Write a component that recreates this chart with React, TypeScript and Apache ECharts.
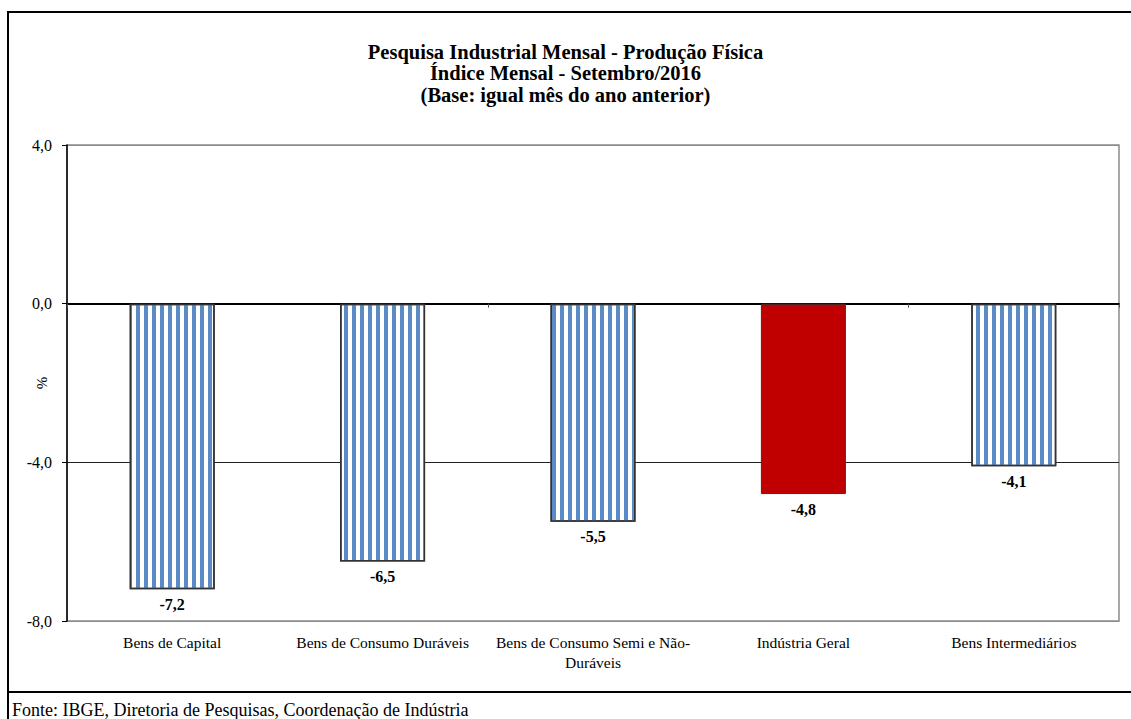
import React, { useEffect, useRef } from "react";
import * as echarts from "echarts";

const titleLines = [
  "Pesquisa Industrial Mensal - Produção Física",
  "Índice Mensal - Setembro/2016",
  "(Base: igual mês do ano anterior)",
];
const categories = [
  "Bens de Capital",
  "Bens de Consumo Duráveis",
  "Bens de Consumo Semi e Não-Duráveis",
  "Indústria Geral",
  "Bens Intermediários",
];
const values = [-7.2, -6.5, -5.5, -4.8, -4.1];
const highlighted = [false, false, false, true, false];
const yAxisName = "%";
const sourceNote = "Fonte: IBGE, Diretoria de Pesquisas, Coordenação de Indústria";

const SERIF = "'Liberation Serif', 'Times New Roman', serif";
const fmt = (v: number) => v.toFixed(1).replace(".", ",");

export default function App() {
  const ref = useRef<HTMLDivElement>(null);
  useEffect(() => {
    if (!ref.current) return;
    const chart = echarts.init(ref.current, null, { renderer: "svg" });
    const stripe = {
      symbol: "rect",
      symbolSize: 1,
      color: "#5b8bc6",
      dashArrayX: [4, 3.7],
      dashArrayY: [10, 0],
      rotation: 0,
    };
    chart.setOption({
      animation: false,
      backgroundColor: "#ffffff",
      textStyle: { fontFamily: SERIF },
      title: {
        text: titleLines.join("\n"),
        left: "center",
        top: 36,
        textStyle: {
          fontFamily: SERIF,
          fontSize: 20.5,
          fontWeight: "bold",
          color: "#000",
          lineHeight: 21.5,
        },
      },
      grid: {
        left: 67,
        right: 12,
        top: 145,
        bottom: 98,
        show: true,
        borderColor: "#8c8c8c",
        borderWidth: 1.5,
      },
      xAxis: [
        {
          type: "category",
          data: categories,
          position: "bottom",
          axisLine: { show: true, onZero: true, lineStyle: { color: "#000", width: 2 } },
          axisTick: { show: true, length: 4, lineStyle: { color: "#555" } },
          axisLabel: { show: false },
        },
        {
          type: "category",
          data: categories,
          position: "bottom",
          axisLine: { show: false, onZero: false },
          axisTick: { show: false },
          axisLabel: {
            show: true,
            margin: 11,
            fontFamily: SERIF,
            fontSize: 15.5,
            color: "#000",
            lineHeight: 20,
            interval: 0,
            formatter: (s: string) => s.replace("Não-", "Não-\n"),
          },
        },
      ],
      yAxis: {
        type: "value",
        min: -8,
        max: 4,
        interval: 4,
        name: yAxisName,
        nameLocation: "middle",
        nameRotate: 90,
        nameGap: 18,
        nameMoveOverlap: false,
        nameTextStyle: { fontFamily: SERIF, fontSize: 15, color: "#000" },
        axisLine: { show: true, lineStyle: { color: "#000", width: 1.5 } },
        axisTick: { show: true, length: 5, lineStyle: { color: "#000", width: 1 } },
        axisLabel: {
          margin: 15,
          fontFamily: SERIF,
          fontSize: 16,
          color: "#000",
          formatter: (v: number) => fmt(v),
        },
        splitLine: {
          show: true,
          lineStyle: { color: ["#8c8c8c", "#222", "#000", "#8c8c8c"], width: 1 },
        },
      },
      series: [
        {
          type: "bar",
          xAxisIndex: 0,
          yAxisIndex: 0,
          barWidth: 85,
          data: values.map((v, i) => ({
            value: v,
            itemStyle: highlighted[i]
              ? { color: "#c00000", borderColor: "#333", borderWidth: 1 }
              : { color: "#ffffff", borderColor: "#333", borderWidth: 1.5, decal: stripe },
          })),
          label: {
            show: true,
            position: "bottom",
            distance: 7,
            fontFamily: SERIF,
            fontSize: 16,
            fontWeight: "bold",
            color: "#000",
            formatter: (p: any) => fmt(p.value),
          },
        },
      ],
      graphic: [
        {
          type: "rect",
          shape: { x: 8, y: 12, width: 1130, height: 680 },
          style: { fill: "none", stroke: "#000", lineWidth: 2 },
          silent: true,
        },
        {
          type: "line",
          shape: { x1: 8, y1: 692, x2: 8, y2: 719 },
          style: { stroke: "#000", lineWidth: 2 },
          silent: true,
        },
        {
          type: "text",
          x: 12,
          y: 710,
          style: {
            text: sourceNote,
            fontFamily: SERIF,
            fontSize: 18,
            fill: "#000",
            textVerticalAlign: "middle",
          },
          silent: true,
        },
      ],
    });
    return () => chart.dispose();
  }, []);
  return (
    <div
      ref={ref}
      style={{ position: "absolute", left: 0, top: 0, width: 1131, height: 719 }}
    />
  );
}
